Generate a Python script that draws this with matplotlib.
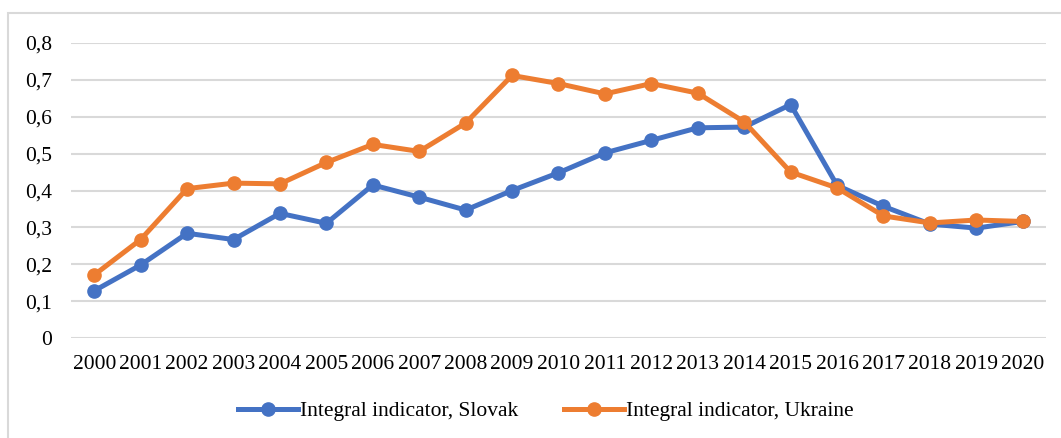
import matplotlib
matplotlib.use('Agg')
import matplotlib.pyplot as plt
from matplotlib.patches import Rectangle

years = [str(y) for y in range(2000, 2021)]
slovak = [0.128, 0.198, 0.284, 0.267, 0.338, 0.311, 0.415, 0.382, 0.347, 0.400,
          0.448, 0.502, 0.536, 0.570, 0.572, 0.633, 0.414, 0.357, 0.309, 0.298, 0.316]
ukraine = [0.171, 0.267, 0.405, 0.420, 0.418, 0.476, 0.525, 0.506, 0.583, 0.712,
           0.690, 0.662, 0.690, 0.664, 0.586, 0.450, 0.407, 0.331, 0.312, 0.320, 0.316]
yticks = [0, 0.1, 0.2, 0.3, 0.4, 0.5, 0.6, 0.7, 0.8]
ytick_labels = ['0', '0,1', '0,2', '0,3', '0,4', '0,5', '0,6', '0,7', '0,8']

plt.rcParams['font.family'] = ['Liberation Serif', 'DejaVu Serif']

W, H = 1061, 438
fig = plt.figure(figsize=(W / 100, H / 100), dpi=100)
ax = fig.add_axes([71 / W, 1 - 338 / H, (1046 - 71) / W, (338 - 43) / H])

x = list(range(len(years)))
ax.plot(x, slovak, color='#4472C4', lw=3.6, marker='o', ms=9.5,
        label='Integral indicator, Slovak', zorder=3)
ax.plot(x, ukraine, color='#ED7D31', lw=3.6, marker='o', ms=9.5,
        label='Integral indicator, Ukraine', zorder=4)

ax.set_xlim(-0.5, len(years) - 0.5)
ax.set_ylim(0, 0.8)
ax.set_yticks(yticks)
ax.set_yticklabels(ytick_labels)
ax.set_xticks(x)
ax.set_xticklabels(years)
ax.tick_params(axis='both', length=0, labelsize=15.5, colors='black')
ax.tick_params(axis='y', pad=13.5)
ax.tick_params(axis='x', pad=12)
ax.yaxis.grid(True, color='#D9D9D9', lw=1.5)
ax.set_axisbelow(True)
for s in ax.spines.values():
    s.set_visible(False)

fig.legend(loc='center', bbox_to_anchor=(546 / W, 1 - 411 / H), ncol=2,
           frameon=False, fontsize=15.5, handlelength=2.8, handletextpad=0.1,
           columnspacing=2.1)

fig.patches.append(Rectangle((8 / W, -0.1), 1.1, 1 - 13 / H + 0.1,
                             transform=fig.transFigure, fill=False,
                             edgecolor='#D9D9D9', lw=1.5))

fig.savefig('out.png', dpi=100)
